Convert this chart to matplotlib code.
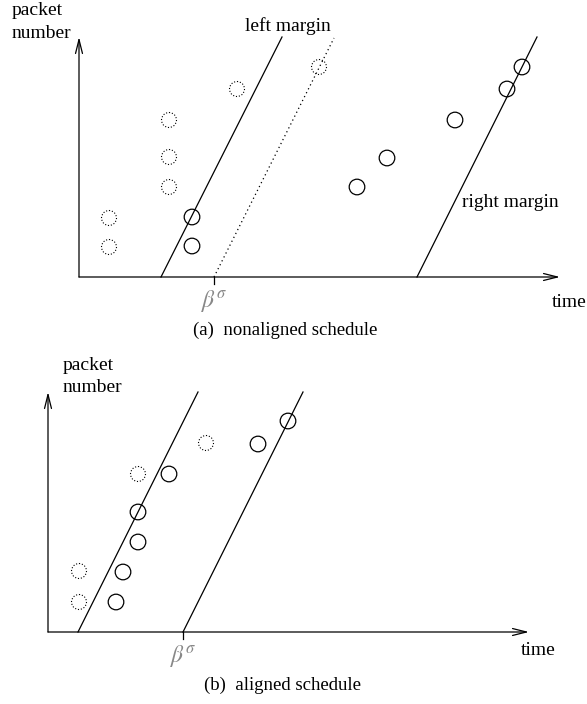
import numpy as np
from matplotlib import pyplot as plt
from matplotlib.patches import Circle

########################## DATA (pixel units, y downwards)
# panel (a): nonaligned schedule
a_origin = (79, 277)
a_x_tip = (560, 277)
a_y_tip = (79, 37)
a_sent_x = [192, 192, 357, 387, 455, 507, 522]     # packets actually sent (solid circles)
a_sent_y = [246, 217, 187, 158, 120, 89, 67]
a_sched_x = [109, 109, 169, 169, 169, 237, 319]    # scheduled packets (dotted circles)
a_sched_y = [247, 218, 187, 157, 120, 89, 67]
a_left_x = [161, 282]
a_left_y = [277, 37]
a_beta_x = [214, 334]                              # dotted line starting at beta^sigma
a_beta_y = [277, 38]
a_right_x = [417, 537]
a_right_y = [277, 37]

# panel (b): aligned schedule
b_origin = (48, 632)
b_x_tip = (529, 632)
b_y_tip = (48, 392)
b_sent_x = [116, 123, 138, 138, 169, 258, 288]
b_sent_y = [602, 572, 542, 512, 474, 444, 421]
b_sched_x = [79, 79, 138, 206]
b_sched_y = [602, 571, 474, 443]
b_left_x = [78, 198]
b_left_y = [632, 392]
b_right_x = [183, 303]
b_right_y = [632, 392]

W, H = 587, 704
plt.rcParams['font.family'] = ['Liberation Serif', 'DejaVu Serif']
plt.rcParams['mathtext.fontset'] = 'stix'

fig = plt.figure(figsize=(W / 100, H / 100), dpi=100)
ax = fig.add_axes([0, 0, 1, 1])
ax.set_xlim(0, W)
ax.set_ylim(H, 0)
ax.axis('off')

LW = 0.9
FS = 14


def arrow(start, tip):
    ax.annotate('', xy=tip, xytext=start,
                arrowprops=dict(arrowstyle='->, head_length=1.0, head_width=0.25',
                                lw=LW, color='black', shrinkA=0, shrinkB=0,
                                mutation_scale=10))


def circles(xs, ys, r, ls):
    for x, y in zip(xs, ys):
        ax.add_patch(Circle((x, y), r, fill=False, lw=LW if ls == '-' else 0.8,
                            ls=ls, ec='black'))


def beta_tick(x, y0):
    ax.plot([x, x], [y0, y0 + 7], color='black', lw=LW)
    ax.text(x, y0 + 24, r'$\beta^{\sigma}$', color='#888888', fontsize=17,
            ha='center', va='center')


########################## PANEL (a)
arrow(a_origin, a_x_tip)
arrow(a_origin, a_y_tip)
ax.plot(a_left_x, a_left_y, color='black', lw=LW)
ax.plot(a_beta_x, a_beta_y, color='black', lw=0.9, ls=(0, (1, 2.5)))
ax.plot(a_right_x, a_right_y, color='black', lw=LW)
circles(a_sched_x, a_sched_y, 7.5, ':')
circles(a_sent_x, a_sent_y, 7.8, '-')
beta_tick(a_beta_x[0], a_origin[1])

ax.text(12, 15, 'packet', fontsize=FS, va='baseline')
ax.text(12, 38, 'number', fontsize=FS, va='baseline')
ax.text(245, 31, 'left margin', fontsize=FS, va='baseline')
ax.text(462, 207, 'right margin', fontsize=FS, va='baseline')
ax.text(552, 307, 'time', fontsize=FS, va='baseline')
ax.text(285, 335, '(a)  nonaligned schedule', fontsize=13.5, ha='center', va='baseline')

########################## PANEL (b)
arrow(b_origin, b_x_tip)
arrow(b_origin, b_y_tip)
ax.plot(b_left_x, b_left_y, color='black', lw=LW)
ax.plot(b_right_x, b_right_y, color='black', lw=LW)
circles(b_sched_x, b_sched_y, 7.5, ':')
circles(b_sent_x, b_sent_y, 7.8, '-')
beta_tick(b_right_x[0], b_origin[1])

ax.text(63, 370, 'packet', fontsize=FS, va='baseline')
ax.text(63, 392, 'number', fontsize=FS, va='baseline')
ax.text(521, 655, 'time', fontsize=FS, va='baseline')
ax.text(283, 690, '(b)  aligned schedule', fontsize=13.5, ha='center', va='baseline')

plt.savefig('out.png', dpi=100)
plt.close()
